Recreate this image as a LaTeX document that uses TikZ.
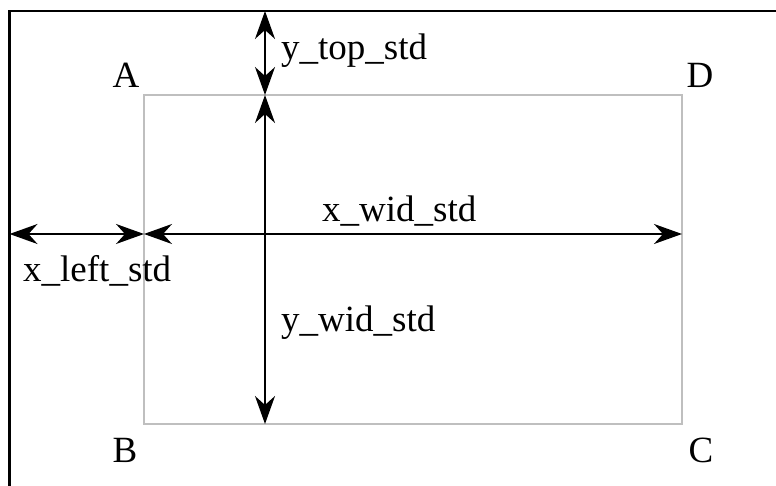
\documentclass[tikz,border=0pt]{standalone}
\usepackage{fontspec}
\setmainfont{Liberation Serif}
\usetikzlibrary{arrows.meta,positioning}

\begin{document}
\begin{tikzpicture}[x=1pt,y=-1pt,
    dim/.style={line width=2pt,{Stealth[length=28pt,width=20pt,inset=9pt]}-{Stealth[length=28pt,width=20pt,inset=9pt]}},
    lbl/.style={font=\fontsize{37}{42}\selectfont,inner sep=0pt}]
          \useasboundingbox (0,0) rectangle (776,486);
          % outer frame, only left and top show
          \draw[line width=2.2pt] (9.5,486) -- (9.5,11) -- (790,11);
          \coordinate (A) at (144,95);
          \coordinate (D) at (682,95);
          \coordinate (B) at (144,424);
          \coordinate (C) at (682,424);
          \draw[gray!50,line width=2pt] (A) -- (D) -- (C) -- (B) -- cycle;

          \coordinate (top) at (265,11);
          \coordinate (t_a) at (265,95);
          \coordinate (t_b) at (265,424);
          \coordinate (left) at (9.5,234);
          \coordinate (l_a) at (144,234);
          \coordinate (l_b) at (682,234);

          \draw[dim] (top) -- (t_a);
          \draw[dim] (t_a) -- (t_b);
          \draw[dim] (left) -- (l_a);
          \draw[dim] (l_a) -- (l_b);

          \node[lbl,anchor=base] (a_lbl) at (126,88) {A};
          \node[lbl,anchor=base] (d_lbl) at (700,88) {D};
          \node[lbl,anchor=base] (b_lbl) at (125,462) {B};
          \node[lbl,anchor=base] (c_lbl) at (701,462) {C};

          \node[lbl,anchor=base west] (ytop) at (281,60) {y\_top\_std};
          \node[lbl,anchor=base west] (xwid) at (322,222) {x\_wid\_std};
          \node[lbl,anchor=base west] (xleft) at (23,282) {x\_left\_std};
          \node[lbl,anchor=base west] (ywid) at (281,331) {y\_wid\_std};
        \end{tikzpicture}
\end{document}
